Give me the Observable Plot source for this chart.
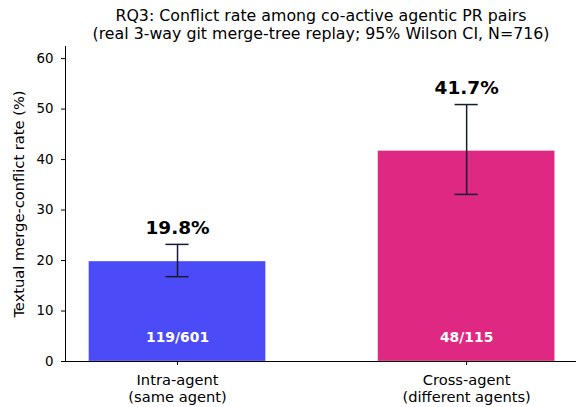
<!DOCTYPE html>
<html>
<head>
<meta charset="utf-8">
<script src="https://cdn.jsdelivr.net/npm/d3@7"></script>
<script src="https://cdn.jsdelivr.net/npm/@observablehq/plot@0.6"></script>
<style>
  html, body { margin: 0; padding: 0; background: #fff; }
  svg { font-family: "DejaVu Sans", sans-serif; }
</style>
</head>
<body>
<div id="chart"></div>
<script>
const categories = ["Intra-agent\n(same agent)", "Cross-agent\n(different agents)"];
const rates = [19.8, 41.7];
const ciLow = [16.8, 33.1];
const ciHigh = [23.2, 50.9];
const counts = ["119/601", "48/115"];
const colors = ["#4B4BF7", "#DE2882"];
const yTicks = [0, 10, 20, 30, 40, 50, 60];
const titleLines = ["RQ3: Conflict rate among co-active agentic PR pairs",
                    "(real 3-way git merge-tree replay; 95% Wilson CI, N=716)"];
const yLabel = "Textual merge-conflict rate (%)";

const data = categories.map((c, i) => ({
  i, cat: c, rate: rates[i], lo: ciLow[i], hi: ciHigh[i], n: counts[i], color: colors[i]
}));

const xMin = -0.3875, xMax = 1.38;
const barHalf = 0.306, capHalf = 0.04;
const ink = "#161b33";

const chart = Plot.plot({
  width: 576,
  height: 407,
  marginLeft: 65,
  marginRight: 0,
  marginTop: 46,
  marginBottom: 46,
  style: { fontFamily: "DejaVu Sans, sans-serif", background: "white", overflow: "visible" },
  x: { domain: [xMin, xMax], axis: null },
  y: { domain: [0, 62.4], axis: null },
  marks: [
    Plot.rect(data, {
      x1: d => d.i - barHalf, x2: d => d.i + barHalf, y1: 0, y2: "rate",
      fill: "color", stroke: "white", strokeWidth: 0.8, strokeOpacity: 0.35
    }),
    Plot.ruleX(data, { x: "i", y1: "lo", y2: "hi", stroke: ink, strokeWidth: 1.5 }),
    Plot.ruleY(data, { y: "hi", x1: d => d.i - capHalf, x2: d => d.i + capHalf, stroke: ink, strokeWidth: 1.5 }),
    Plot.ruleY(data, { y: "lo", x1: d => d.i - capHalf, x2: d => d.i + capHalf, stroke: ink, strokeWidth: 1.5 }),
    Plot.text(data, {
      x: "i", y: "hi", text: d => d.rate.toFixed(1) + "%", dy: -16,
      fontSize: 18.5, fontWeight: "bold", fill: "black"
    }),
    Plot.text(data, {
      x: "i", y: 3, text: "n", lineAnchor: "bottom", dy: -4,
      fontSize: 13.9, fontWeight: "bold", fill: "white"
    }),
    Plot.ruleY([0], { stroke: "black", strokeWidth: 1 }),
    Plot.ruleX([xMin], { stroke: "black", strokeWidth: 1 }),
    Plot.axisY({
      ticks: yTicks, tickSize: 4, tickPadding: 8, fontSize: 13.33,
      label: null, stroke: "black", color: "black"
    }),
    Plot.axisX({
      ticks: [0, 1], tickFormat: i => categories[i], tickSize: 4, tickPadding: 8,
      fontSize: 14.67, lineHeight: 1.12, label: null, color: "black"
    }),
    Plot.text([yLabel], {
      frameAnchor: "left", rotate: -90, dx: -46, textAnchor: "middle", lineAnchor: "middle",
      fontSize: 14.67, fill: "black"
    }),
    Plot.text([titleLines.join("\n")], {
      frameAnchor: "top", dy: -22.5, lineAnchor: "middle", lineHeight: 1.17,
      fontSize: 15.8, fill: "black"
    })
  ]
});
document.getElementById("chart").appendChild(chart);
</script>
</body>
</html>
